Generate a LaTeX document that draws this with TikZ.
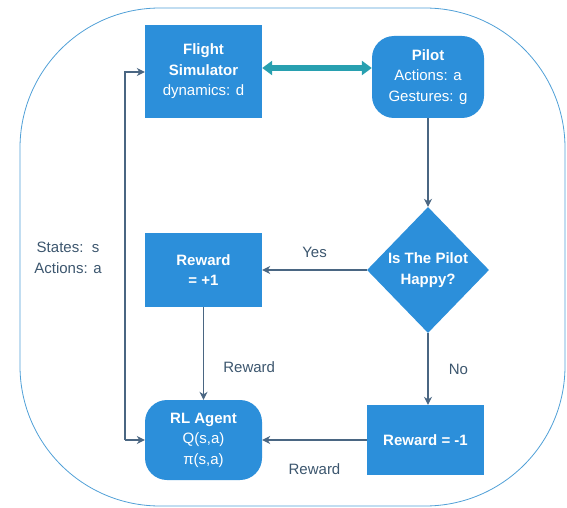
\documentclass[tikz,border=0pt]{standalone}
\usepackage{fontspec}
\setmainfont{Liberation Sans}
\usetikzlibrary{shapes.geometric,arrows.meta}
\definecolor{boxblue}{RGB}{44,143,218}
\definecolor{linegray}{RGB}{74,102,130}
\definecolor{labelgray}{RGB}{60,86,110}
\definecolor{rimblue}{RGB}{80,160,215}
\definecolor{linkteal}{RGB}{40,160,176}
\tikzset{
  block/.style={rectangle, fill=boxblue, text=white, font=\fontsize{15}{20.5}\selectfont\bfseries, align=center, minimum width=117pt, minimum height=90pt, inner sep=2pt},
  softblock/.style={block, rounded corners=22pt},
  flow/.style={draw=linegray, line width=1.1pt, -{Stealth[length=8pt,width=8pt]}},
  tag/.style={text=labelgray, font=\fontsize{15}{20.5}\selectfont, align=center}
}
\begin{document}
\begin{tikzpicture}[x=1pt,y=-1pt]
\useasboundingbox (0,0) rectangle (567,508);
\draw[rimblue, line width=0.8pt, rounded corners=140pt] (20,8) rectangle (565,506);
\node[block, minimum height=93pt] (sim) at (203.5,71.5) {Flight\\Simulator\\\mdseries dynamics: d};
\node[softblock, minimum width=112pt, minimum height=82pt] (pilot) at (428,77) {Pilot\\\mdseries Actions: a\\\mdseries Gestures: g};
\node[diamond, fill=boxblue, minimum width=122pt, minimum height=126pt, inner sep=0pt] (happy) at (428,270) {};
\node[text=white, font=\fontsize{15}{20.5}\selectfont\bfseries, align=center, inner sep=0pt] (happytext) at (happy) {Is The Pilot\\Happy?};
\node[block, minimum height=74pt] (plus) at (203.5,270) {Reward\\= +1};
\node[softblock, minimum height=80pt] (agent) at (203.5,440) {RL Agent\\\mdseries Q(s,a)\\\mdseries π(s,a)};
\node[block, minimum height=70pt] (minus) at (425.5,440) {Reward = -1};
\node[tag] (states) at (68,258) {States:\ \ s\\Actions: a};
\draw[linkteal, line width=6pt, {Triangle[length=10pt,width=14pt]}-{Triangle[length=10pt,width=14pt]}] ([yshift=3.5pt]sim.east) -- ([yshift=3.5pt]pilot.west |- sim.east);
\draw[flow] (pilot.south) -- (happy.north);
\draw[flow] (happy.west) -- (plus.east) node[tag, midway, above=8pt] {Yes};
\draw[flow] (happy.south) -- (happy.south |- minus.north) node[tag, pos=0.5, right=17pt] {No};
\draw[flow] (plus.south) -- (agent.north) node[tag, pos=0.65, right=16pt] {Reward};
\draw[flow] (minus.west) -- (agent.east) node[tag, midway, below=20pt] {Reward};
\coordinate (loopbot) at (125,440);
\coordinate (looptop) at (125,72);
\draw[flow] (loopbot) -- (agent.west);
\draw[flow] (loopbot) -- (looptop) -- (sim.west |- looptop);
\end{tikzpicture}
\end{document}
